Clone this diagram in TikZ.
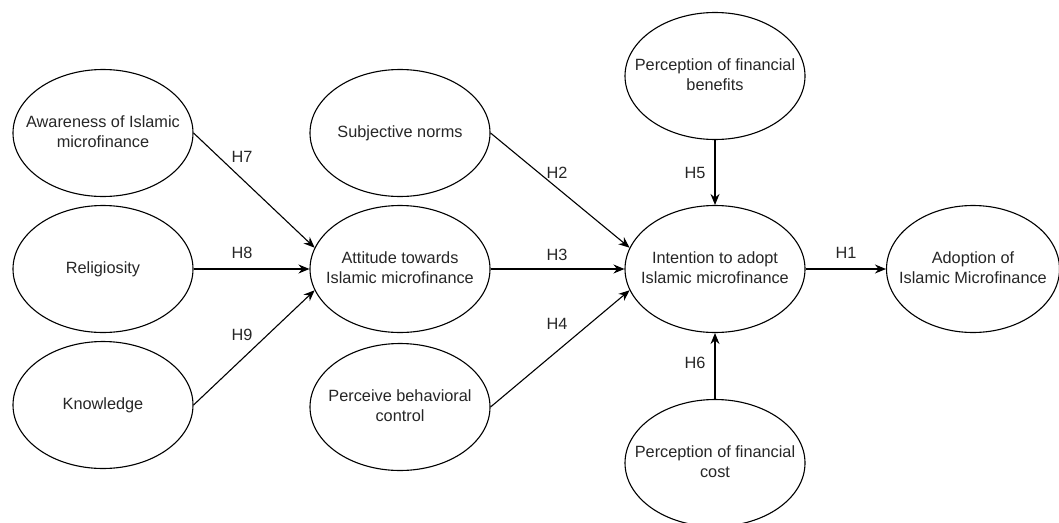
\documentclass[tikz,border=0pt]{standalone}
\usepackage{fontspec}
\setmainfont{Liberation Sans}
\usetikzlibrary{shapes.geometric,arrows.meta}
\newcommand{\ovaltext}[1]{\makebox[0pt][c]{\begin{tabular}{@{}c@{}}#1\end{tabular}}}
\begin{document}
\begin{tikzpicture}[x=1pt,y=-1pt,
  oval/.style={ellipse,draw=black,line width=1.1pt,minimum width=180pt,minimum height=127pt,inner sep=0pt,
    font=\fontsize{16.3}{20}\selectfont,text=black!85},
  conn/.style={line width=1.1pt,-{Stealth[length=11pt,width=9pt]}},
  hlab/.style={font=\fontsize{16.3}{20}\selectfont,text=black!85,inner sep=0pt}]
\useasboundingbox (0,0) rectangle (1059,522);
\node[oval] (aw) at (103,133) {\ovaltext{Awareness of Islamic\\microfinance}};
\node[oval] (rel) at (103,269) {\ovaltext{Religiosity}};
\node[oval] (kn) at (103,405) {\ovaltext{Knowledge}};
\node[oval] (sn) at (400,133) {\ovaltext{Subjective norms}};
\node[oval] (att) at (400,269) {\ovaltext{Attitude towards\\Islamic microfinance}};
\node[oval] (pbc) at (400,407) {\ovaltext{Perceive behavioral\\control}};
\node[oval] (pfb) at (715,76) {\ovaltext{Perception of financial\\benefits}};
\node[oval] (int) at (715,269) {\ovaltext{Intention to adopt\\Islamic microfinance}};
\node[oval] (pfc) at (715,463) {\ovaltext{Perception of financial\\cost}};
\node[oval,minimum width=173pt] (ado) at (973,269) {\ovaltext{Adoption of\\Islamic Microfinance}};
\draw[conn] (aw.east) -- (att.166);
\draw[conn] (rel.east) -- (att.west);
\draw[conn] (kn.east) -- (att.194);
\draw[conn] (sn.east) -- (int.166);
\draw[conn] (att.east) -- (int.west);
\draw[conn] (pbc.east) -- (int.194);
\draw[conn] (pfb.south) -- (int.north);
\draw[conn] (pfc.north) -- (int.south);
\draw[conn] (int.east) -- (ado.west);
\node[hlab] (h7) at (242,157) {H7};
\node[hlab] (h8) at (242,253) {H8};
\node[hlab] (h9) at (242,335) {H9};
\node[hlab] (h2) at (557,173) {H2};
\node[hlab] (h3) at (557,255) {H3};
\node[hlab] (h4) at (557,324) {H4};
\node[hlab] (h5) at (695,173) {H5};
\node[hlab] (h6) at (695,363) {H6};
\node[hlab] (h1) at (846,253) {H1};
\end{tikzpicture}
\end{document}
